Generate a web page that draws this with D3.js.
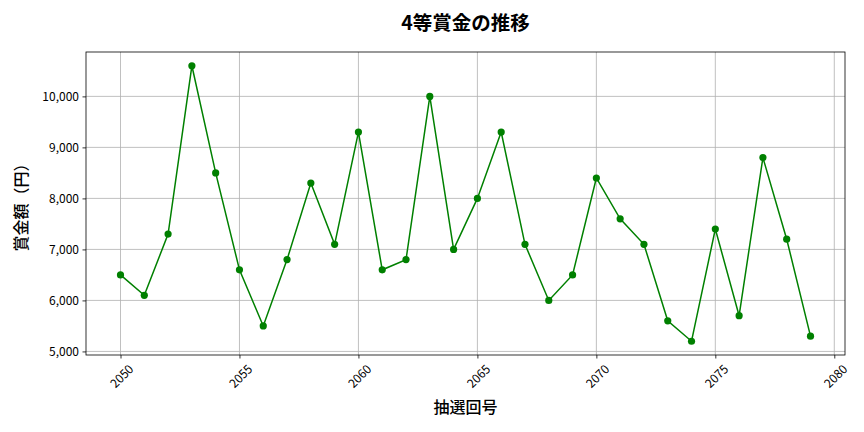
<!DOCTYPE html>
<html lang="ja">
<head>
<meta charset="UTF-8">
<title>4等賞金の推移</title>
<script src="https://d3js.org/d3.v7.min.js"></script>
<style>
    html, body {
        margin: 0;
        padding: 0;
        background: #fff;
    }
    svg text {
        font-family: "Noto Sans CJK JP", "Noto Sans", sans-serif;
        fill: #000;
    }
    .grid line {
        stroke: #b0b0b0;
        stroke-width: 0.8px;
    }
    .axis path, .axis line {
        stroke: #000;
        stroke-width: 0.8px;
    }
</style>
</head>
<body>
<svg id="chart" width="864" height="432"></svg>
<script>
    // draw numbers (抽選回号) and 4th prize amounts (yen)
    const draws = [2050, 2051, 2052, 2053, 2054, 2055, 2056, 2057, 2058, 2059,
                   2060, 2061, 2062, 2063, 2064, 2065, 2066, 2067, 2068, 2069,
                   2070, 2071, 2072, 2073, 2074, 2075, 2076, 2077, 2078, 2079];
    const prizes = [6500, 6100, 7300, 10600, 8500, 6600, 5500, 6800, 8300, 7100,
                    9300, 6600, 6800, 10000, 7000, 8000, 9300, 7100, 6000, 6500,
                    8400, 7600, 7100, 5600, 5200, 7400, 5700, 8800, 7200, 5300];
    const xTicks = [2050, 2055, 2060, 2065, 2070, 2075, 2080];
    const yTicks = [5000, 6000, 7000, 8000, 9000, 10000];

    const title = "4等賞金の推移";
    const xLabel = "抽選回号";
    const yLabel = "賞金額（円）";

    const svg = d3.select("#chart");
    const margin = {top: 52, right: 19, bottom: 77, left: 86};
    const width = 864 - margin.left - margin.right;
    const height = 432 - margin.top - margin.bottom;

    // matplotlib style 5% padding
    const xPad = (d3.max(draws) - d3.min(draws)) * 0.05;
    const yPad = (d3.max(prizes) - d3.min(prizes)) * 0.05;

    const x = d3.scaleLinear()
        .domain([d3.min(draws) - xPad, d3.max(draws) + xPad])
        .range([0, width]);
    const y = d3.scaleLinear()
        .domain([d3.min(prizes) - yPad, d3.max(prizes) + yPad])
        .range([height, 0]);

    const g = svg.append("g")
        .attr("transform", `translate(${margin.left},${margin.top})`);

    // grid
    g.append("g").attr("class", "grid")
        .selectAll("line.v").data(xTicks).enter().append("line")
        .attr("x1", d => x(d)).attr("x2", d => x(d))
        .attr("y1", 0).attr("y2", height);
    g.append("g").attr("class", "grid")
        .selectAll("line.h").data(yTicks).enter().append("line")
        .attr("x1", 0).attr("x2", width)
        .attr("y1", d => y(d)).attr("y2", d => y(d));

    // axes
    const xAxis = g.append("g").attr("class", "axis")
        .attr("transform", `translate(0,${height})`)
        .call(d3.axisBottom(x).tickValues(xTicks).tickFormat(d3.format("d")).tickSize(3.5).tickSizeOuter(0));
    xAxis.select(".domain").remove();
    // rotated 45deg, bbox centered under the tick (like matplotlib rotation=45)
    xAxis.selectAll("text")
        .attr("font-size", 12)
        .style("text-anchor", "middle")
        .attr("dominant-baseline", "central")
        .attr("y", 0).attr("dy", null)
        .attr("transform", function() {
            const w = this.getComputedTextLength();
            const off = 7.5 + (w + 10) / (2 * Math.SQRT2);
            return `translate(0,${off}) rotate(-45)`;
        });

    const yAxis = g.append("g").attr("class", "axis")
        .call(d3.axisLeft(y).tickValues(yTicks).tickFormat(d3.format(",")).tickSize(3.5).tickSizeOuter(0));
    yAxis.select(".domain").remove();
    yAxis.selectAll("text").attr("font-size", 12).attr("x", -7);

    // frame
    g.append("rect")
        .attr("width", width).attr("height", height)
        .attr("fill", "none").attr("stroke", "#000").attr("stroke-width", 0.8);

    // line + markers
    const line = d3.line()
        .x((d, i) => x(draws[i]))
        .y(d => y(d));

    g.append("path")
        .datum(prizes)
        .attr("fill", "none")
        .attr("stroke", "green")
        .attr("stroke-width", 1.5)
        .attr("d", line);

    g.append("g")
        .selectAll("circle")
        .data(prizes)
        .enter().append("circle")
        .attr("cx", (d, i) => x(draws[i]))
        .attr("cy", d => y(d))
        .attr("r", 3.6)
        .attr("fill", "green");

    // labels
    svg.append("text")
        .attr("x", margin.left + width / 2).attr("y", 30)
        .attr("text-anchor", "middle")
        .attr("font-size", 19.5)
        .attr("font-weight", "bold")
        .text(title);

    svg.append("text")
        .attr("x", margin.left + width / 2).attr("y", 413)
        .attr("text-anchor", "middle")
        .attr("font-size", 16)
        .attr("font-weight", 500)
        .text(xLabel);

    svg.append("text")
        .attr("transform", `translate(27,${margin.top + height / 2}) rotate(-90)`)
        .attr("text-anchor", "middle")
        .attr("font-size", 16)
        .attr("font-weight", 500)
        .text(yLabel);
</script>
</body>
</html>
